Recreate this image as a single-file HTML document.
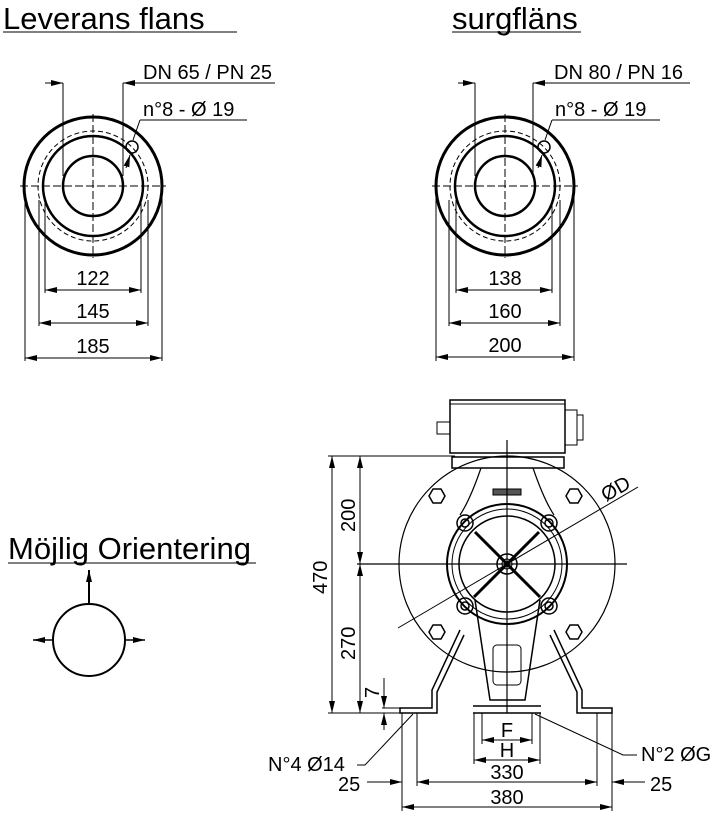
<!DOCTYPE html>
<html><head><meta charset="utf-8"><style>
html,body{margin:0;padding:0;background:#fff;}
svg{display:block;font-family:"Liberation Sans",sans-serif;}
</style></head><body>
<svg width="722" height="824" viewBox="0 0 722 824" xmlns="http://www.w3.org/2000/svg">
<defs>
<marker id="a" markerWidth="12" markerHeight="6" refX="12" refY="3" orient="auto-start-reverse" markerUnits="userSpaceOnUse"><path d="M0,0 L12,3 L0,6 Z" fill="#000"/></marker>
<g id="fl">
 <circle cx="0" cy="0" r="69" fill="none" stroke="#000" stroke-width="3"/>
 <circle cx="0" cy="0" r="55" fill="none" stroke="#000" stroke-width="1" stroke-dasharray="5,3"/>
 <circle cx="0" cy="0" r="50" fill="none" stroke="#000" stroke-width="2.5"/>
 <circle cx="0" cy="0" r="30" fill="none" stroke="#000" stroke-width="2.5"/>
 <line x1="-73" y1="0" x2="73" y2="0" stroke="#000" stroke-dasharray="8,3" stroke-width="1"/>
 <line x1="0" y1="-72" x2="0" y2="72" stroke="#000" stroke-dasharray="8,3" stroke-width="1"/>
 <circle cx="39" cy="-39" r="6" fill="none" stroke="#000" stroke-width="1.5"/>
</g>
<polygon id="hx" points="-8,0 -4,-7 4,-7 8,0 4,7 -4,7" fill="none" stroke="#000" stroke-width="1.5"/>
</defs>
<g stroke="#000" fill="none" stroke-width="1">
<!-- Left flange -->
<text x="3" y="29" font-size="31" fill="#000" stroke="none">Leverans flans</text>
<line x1="3" y1="32" x2="237" y2="32"/>
<use href="#fl" x="93" y="186"/>
<line x1="63" y1="83" x2="63" y2="176"/><line x1="123" y1="83" x2="123" y2="176"/>
<line x1="45" y1="83" x2="63" y2="83" marker-end="url(#a)"/><line x1="139" y1="83" x2="123" y2="83" marker-end="url(#a)"/>
<line x1="139" y1="83" x2="275" y2="83"/>
<text x="143" y="79" font-size="20" fill="#000" stroke="none">DN 65 / PN 25</text>
<line x1="140" y1="120" x2="247" y2="120"/><line x1="140" y1="120" x2="133" y2="140"/><line x1="126" y1="168" x2="130" y2="155" marker-end="url(#a)"/>
<text x="143" y="116" font-size="20" fill="#000" stroke="none">n°8 - Ø 19</text>
<line x1="45" y1="200" x2="45" y2="293"/><line x1="141" y1="200" x2="141" y2="293"/>
<line x1="45" y1="290" x2="141" y2="290" marker-start="url(#a)" marker-end="url(#a)"/>
<text x="93" y="285" font-size="20" text-anchor="middle" fill="#000" stroke="none">122</text>
<line x1="39" y1="200" x2="39" y2="326"/><line x1="148" y1="200" x2="148" y2="326"/>
<line x1="39" y1="323" x2="148" y2="323" marker-start="url(#a)" marker-end="url(#a)"/>
<text x="93" y="318" font-size="20" text-anchor="middle" fill="#000" stroke="none">145</text>
<line x1="25" y1="190" x2="25" y2="361"/><line x1="162" y1="190" x2="162" y2="361"/>
<line x1="25" y1="358" x2="162" y2="358" marker-start="url(#a)" marker-end="url(#a)"/>
<text x="93" y="353" font-size="20" text-anchor="middle" fill="#000" stroke="none">185</text>

<!-- Right flange -->
<text x="452" y="29" font-size="31" fill="#000" stroke="none">surgfläns</text>
<line x1="452" y1="32" x2="581" y2="32"/>
<use href="#fl" x="505" y="186"/>
<line x1="475" y1="83" x2="475" y2="176"/><line x1="533" y1="83" x2="533" y2="176"/>
<line x1="458" y1="83" x2="475" y2="83" marker-end="url(#a)"/><line x1="549" y1="83" x2="533" y2="83" marker-end="url(#a)"/>
<line x1="549" y1="83" x2="690" y2="83"/>
<text x="554" y="79" font-size="20" fill="#000" stroke="none">DN 80 / PN 16</text>
<line x1="552" y1="120" x2="660" y2="120"/><line x1="552" y1="120" x2="545" y2="140"/><line x1="538" y1="168" x2="542" y2="155" marker-end="url(#a)"/>
<text x="555" y="116" font-size="20" fill="#000" stroke="none">n°8 - Ø 19</text>
<line x1="456" y1="200" x2="456" y2="293"/><line x1="552" y1="200" x2="552" y2="293"/>
<line x1="456" y1="290" x2="552" y2="290" marker-start="url(#a)" marker-end="url(#a)"/>
<text x="505" y="285" font-size="20" text-anchor="middle" fill="#000" stroke="none">138</text>
<line x1="449" y1="200" x2="449" y2="326"/><line x1="560" y1="200" x2="560" y2="326"/>
<line x1="449" y1="323" x2="560" y2="323" marker-start="url(#a)" marker-end="url(#a)"/>
<text x="505" y="318" font-size="20" text-anchor="middle" fill="#000" stroke="none">160</text>
<line x1="436" y1="190" x2="436" y2="361"/><line x1="574" y1="190" x2="574" y2="361"/>
<line x1="436" y1="357" x2="574" y2="357" marker-start="url(#a)" marker-end="url(#a)"/>
<text x="505" y="352" font-size="20" text-anchor="middle" fill="#000" stroke="none">200</text>

<!-- Orientation -->
<text x="8" y="559" font-size="31" fill="#000" stroke="none">Möjlig Orientering</text>
<line x1="8" y1="563" x2="256" y2="563"/>
<circle cx="89" cy="640" r="36" stroke-width="2"/>
<line x1="89" y1="604" x2="89" y2="570" stroke-width="2" marker-end="url(#a)"/>
<line x1="53" y1="640" x2="33" y2="640" stroke-width="1.5" marker-end="url(#a)"/>
<line x1="125" y1="640" x2="145" y2="640" stroke-width="1.5" marker-end="url(#a)"/>

<!-- Pump -->
<rect x="450" y="400" width="115" height="53" stroke-width="1.5"/>
<line x1="450" y1="404" x2="565" y2="404"/>
<rect x="565" y="410" width="12" height="35"/><rect x="577" y="415" width="6" height="25"/>
<rect x="437" y="422" width="13" height="12"/>
<rect x="452" y="457" width="112" height="11" stroke-width="1.5"/>
<circle cx="507" cy="564" r="108" stroke-width="1.2"/>
<path d="M481,468 Q470,500 460,515 M533,468 Q544,500 554,515" stroke-width="1.2"/>
<circle cx="507" cy="564" r="60" stroke-width="2"/>
<circle cx="507" cy="564" r="55" stroke-width="1"/>
<circle cx="507" cy="564" r="48" stroke-width="1.5"/>
<circle cx="507" cy="564" r="10" stroke-width="1.5"/>
<circle cx="507" cy="564" r="5"/>
<g stroke-width="1.5">
<circle cx="465" cy="523" r="8"/><circle cx="465" cy="523" r="4"/>
<circle cx="549" cy="523" r="8"/><circle cx="549" cy="523" r="4"/>
<circle cx="465" cy="606" r="8"/><circle cx="465" cy="606" r="4"/>
<circle cx="549" cy="606" r="8"/><circle cx="549" cy="606" r="4"/>
</g>
<line x1="475" y1="532" x2="540" y2="597" stroke-width="3"/>
<line x1="539" y1="532" x2="474" y2="597" stroke-width="3"/>
<use href="#hx" x="437" y="496"/><use href="#hx" x="574" y="496"/>
<use href="#hx" x="437" y="632"/><use href="#hx" x="574" y="632"/>
<rect x="493" y="489" width="28" height="6" fill="#555"/>
<path d="M475,600 L490,700 L525,700 L540,600" stroke-width="1.5"/>
<rect x="493" y="645" width="28" height="40" rx="4"/>
<!-- brackets -->
<path d="M460,630 L432,690 L432,708 L400,708 L400,713 L437,713 L437,692 L464,635" stroke-width="1.5"/>
<path d="M554,630 L582,690 L582,708 L612,708 L612,713 L577,713 L577,692 L550,635" stroke-width="1.5"/>
<line x1="473" y1="706" x2="541" y2="706" stroke-width="1.5"/>
<line x1="473" y1="713" x2="541" y2="713" stroke-width="1.5"/>
<!-- center lines -->
<line x1="507" y1="440" x2="507" y2="713" stroke-width="1.2"/>
<line x1="357" y1="564" x2="627" y2="564" stroke-width="1.2"/>
<line x1="398" y1="628" x2="638" y2="487" stroke-width="1"/>
<text x="0" y="0" font-size="20" fill="#000" stroke="none" transform="translate(606,502) rotate(-30)">ØD</text>
<!-- vertical dims -->
<line x1="328" y1="456" x2="455" y2="456"/>
<line x1="328" y1="713" x2="400" y2="713"/>
<line x1="332" y1="456" x2="332" y2="713" marker-start="url(#a)" marker-end="url(#a)"/>
<line x1="360" y1="456" x2="360" y2="564" marker-start="url(#a)" marker-end="url(#a)"/>
<line x1="360" y1="564" x2="360" y2="713" marker-start="url(#a)" marker-end="url(#a)"/>
<text font-size="20" fill="#000" stroke="none" transform="translate(327,594) rotate(-90)">470</text>
<text font-size="20" fill="#000" stroke="none" transform="translate(355,532) rotate(-90)">200</text>
<text font-size="20" fill="#000" stroke="none" transform="translate(355,660) rotate(-90)">270</text>
<line x1="384" y1="678" x2="384" y2="708" marker-end="url(#a)"/>
<line x1="384" y1="730" x2="384" y2="713" marker-end="url(#a)"/>
<line x1="382" y1="708" x2="400" y2="708"/>
<text font-size="20" fill="#000" stroke="none" transform="translate(379,698) rotate(-90)">7</text>
<!-- horizontal dims -->
<line x1="402" y1="713" x2="402" y2="811"/><line x1="612" y1="713" x2="612" y2="811"/>
<line x1="417" y1="713" x2="417" y2="786"/><line x1="597" y1="713" x2="597" y2="786"/>
<line x1="474" y1="713" x2="474" y2="764"/><line x1="540" y1="713" x2="540" y2="764"/>
<line x1="482" y1="713" x2="482" y2="744"/><line x1="532" y1="713" x2="532" y2="744"/>
<line x1="482" y1="740" x2="532" y2="740" marker-start="url(#a)" marker-end="url(#a)"/>
<line x1="474" y1="760" x2="540" y2="760" marker-start="url(#a)" marker-end="url(#a)"/>
<line x1="417" y1="782" x2="597" y2="782" marker-start="url(#a)" marker-end="url(#a)"/>
<line x1="402" y1="807" x2="612" y2="807" marker-start="url(#a)" marker-end="url(#a)"/>
<line x1="367" y1="782" x2="402" y2="782" marker-end="url(#a)"/>
<line x1="645" y1="782" x2="612" y2="782" marker-end="url(#a)"/>
<text x="507" y="737" font-size="20" text-anchor="middle" fill="#000" stroke="none">F</text>
<text x="507" y="757" font-size="20" text-anchor="middle" fill="#000" stroke="none">H</text>
<text x="507" y="779" font-size="20" text-anchor="middle" fill="#000" stroke="none">330</text>
<text x="507" y="804" font-size="20" text-anchor="middle" fill="#000" stroke="none">380</text>
<text x="338" y="791" font-size="20" fill="#000" stroke="none">25</text>
<text x="650" y="791" font-size="20" fill="#000" stroke="none">25</text>
<path d="M357,765 L365,765 L413,714"/>
<text x="268" y="771" font-size="20" fill="#000" stroke="none">N°4 Ø14</text>
<path d="M535,714 L623,755 L637,755"/>
<text x="641" y="761" font-size="20" fill="#000" stroke="none">N°2 ØG</text>
</g>
</svg>
</body></html>
